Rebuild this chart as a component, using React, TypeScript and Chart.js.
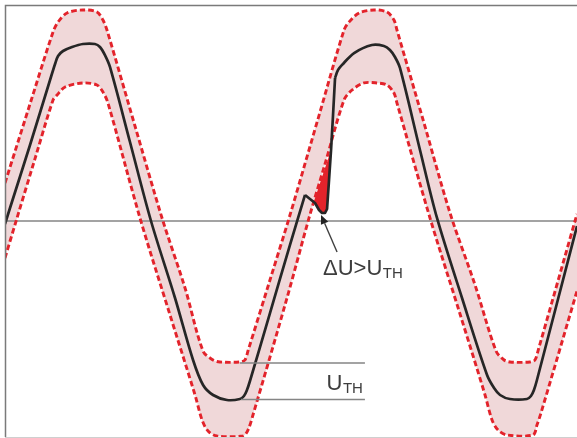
import { useEffect, useRef } from 'react';
import { Chart, registerables } from 'chart.js';

Chart.register(...registerables);

// time axis (ms) and voltage axis (V)
const X_MIN = 0;
const X_MAX = 40;
const Y_MIN = -400;
const Y_MAX = 400;

// measured waveform (with the transient glitch)
const WAVE_T = [0, 0.35, 1.75, 3.15, 3.5, 3.71, 4.06, 4.69, 5.45, 6.29, 6.64, 6.99, 7.34, 8.74, 10.21, 11.89, 13.15, 13.85, 14.55, 15.52, 16.43, 16.71, 16.92, 17.13, 18.53, 19.93, 20.98, 21.68, 21.96, 22.17, 22.38, 22.52, 22.66, 22.8, 22.94, 23.08, 23.29, 23.57, 24.41, 25.66, 26.5, 26.92, 27.27, 27.62, 29.02, 30.21, 31.96, 33.71, 34.2, 34.62, 35.31, 36.5, 36.78, 36.99, 37.2, 40.0];
const WAVE_V = [-5.6, 24.1, 140.8, 261.1, 290.8, 305.6, 314.8, 322.2, 327.8, 327.8, 322.2, 307.1, 285.2, 146.3, 0, -142.6, -257.4, -303.7, -322.2, -331.5, -329.7, -324.1, -313, -296.3, -170.4, -44.4, 48.2, 33.3, 20.4, 14.8, 14.8, 22.2, 75.9, 131.5, 196.3, 264.8, 279.7, 289, 311.1, 326, 324.1, 316.7, 303.7, 283.4, 131.5, 5.6, -142.6, -285.2, -309.3, -322.2, -329.7, -329.7, -324.1, -313, -294.5, -9.3];
// indices where the sharp-cornered glitch begins and ends
const GLITCH_START = 26;
const GLITCH_END = 35;

// tolerance band: upper envelope
const UPPER_T = [0, 1.75, 3.36, 3.71, 4.34, 5.45, 6.43, 6.85, 7.13, 9.09, 10.98, 12.59, 13.85, 14.55, 15.03, 16.43, 16.78, 16.99, 18.53, 19.93, 22.03, 23.71, 24.06, 24.76, 25.8, 26.71, 27.2, 27.41, 29.3, 31.12, 32.87, 34.34, 34.9, 35.31, 36.71, 37.06, 37.27, 40.0];
const UPPER_V = [70.4, 216.7, 350, 368.5, 385.2, 390.8, 387, 372.1, 353.7, 175.9, 5.6, -124.1, -240.8, -257.4, -261.1, -261.1, -257.4, -240.8, -109.3, 11.1, 201.9, 353.7, 368.5, 385.2, 390.8, 387, 372.1, 353.7, 181.5, 14.8, -118.5, -240.8, -257.4, -261.1, -261.1, -257.4, -240.8, 13];

// tolerance band: lower envelope
const LOWER_T = [0, 0.84, 2.1, 3.36, 3.64, 4.2, 5.45, 6.43, 6.85, 7.2, 9.44, 11.54, 13.29, 13.78, 14.2, 14.83, 16.64, 16.99, 17.34, 19.72, 21.26, 22.38, 23.71, 24.27, 25.1, 26.01, 26.71, 27.2, 27.41, 29.72, 31.82, 33.57, 34.06, 34.48, 35.1, 36.92, 37.2, 37.48, 40.0];
const LOWER_V = [-68.5, 5.6, 115.6, 224.1, 233.4, 248.2, 255.6, 251.9, 238.9, 218.5, 5.6, -174.1, -322.2, -368.5, -388.9, -398.2, -398.2, -387.1, -359.3, -142.6, 5.6, 105.6, 224.1, 242.6, 255.6, 255.6, 251.9, 237.1, 218.5, 5.6, -172.2, -322.2, -368.5, -387.1, -396.3, -396.3, -377.8, -355.6, -129.6];

// region where the deviation exceeds the threshold
const GLITCH_T = [21.61, 22.8, 22.66, 22.52, 22.38, 22.17, 21.96, 21.68, 21.61];
const GLITCH_V = [37, 131.5, 75.9, 22.2, 14.8, 14.8, 20.4, 31.5, 37];

// threshold marker lines
const UTH_HIGH_V = -263;
const UTH_LOW_V = -330.5;
const UTH_HIGH_T = [16.43, 25.17];
const UTH_LOW_T = [16.5, 25.17];

// annotations (data coordinates)
const LABEL_DU_MAIN = 'ΔU>U';
const LABEL_SUB = 'TH';
const LABEL_UTH_MAIN = 'U';
const LABEL_DU_POS = { x: 22.24, y: -100 };
const LABEL_UTH_POS = { x: 25.03, y: -313 };
const ARROW_TAIL = { x: 23.22, y: -57.4 };
const ARROW_TIP = { x: 22.1, y: 11.1 };

const pts = (t: number[], v: number[]) => t.map((x, i) => ({ x, y: v[i] }));

const RED = '#e3232b';
const PINK = 'rgb(240,216,217)';
const GRAY = '#858585';
const TEXT = '#3d3d3d';
const BLACK = '#262626';
const SMOOTH = 0.32;

const overlay = {
  id: 'overlay',
  afterDatasetsDraw(chart: any) {
    const { ctx, chartArea: a, scales } = chart;
    const xs = scales.x;
    const ys = scales.y;
    ctx.save();
    // frame
    ctx.lineWidth = 1.5;
    ctx.strokeStyle = '#7a7a7a';
    ctx.beginPath();
    ctx.moveTo(a.left + 0.5, a.bottom);
    ctx.lineTo(a.left + 0.5, a.top + 0.5);
    ctx.lineTo(a.right, a.top + 0.5);
    ctx.stroke();
    ctx.lineWidth = 1;
    ctx.strokeStyle = '#cfcfcf';
    ctx.beginPath();
    ctx.moveTo(a.left, a.bottom + 0.5);
    ctx.lineTo(a.right, a.bottom + 0.5);
    ctx.stroke();

    // arrow
    const tx = xs.getPixelForValue(ARROW_TAIL.x);
    const ty = ys.getPixelForValue(ARROW_TAIL.y);
    const hx = xs.getPixelForValue(ARROW_TIP.x);
    const hy = ys.getPixelForValue(ARROW_TIP.y);
    const ang = Math.atan2(hy - ty, hx - tx);
    const headLen = 9;
    const headW = 4;
    const bx = hx - headLen * Math.cos(ang);
    const by = hy - headLen * Math.sin(ang);
    ctx.strokeStyle = '#404040';
    ctx.lineWidth = 1.4;
    ctx.beginPath();
    ctx.moveTo(tx, ty);
    ctx.lineTo(bx, by);
    ctx.stroke();
    ctx.fillStyle = '#222';
    ctx.beginPath();
    ctx.moveTo(hx, hy);
    ctx.lineTo(bx + headW * Math.sin(ang), by - headW * Math.cos(ang));
    ctx.lineTo(bx - headW * Math.sin(ang), by + headW * Math.cos(ang));
    ctx.closePath();
    ctx.fill();

    // labels
    ctx.fillStyle = TEXT;
    ctx.textBaseline = 'alphabetic';
    ctx.textAlign = 'left';
    const mainFont = '22px "Liberation Sans", Arial, sans-serif';
    const subFont = '15px "Liberation Sans", Arial, sans-serif';
    let px = xs.getPixelForValue(LABEL_DU_POS.x);
    let py = ys.getPixelForValue(LABEL_DU_POS.y);
    ctx.font = mainFont;
    ctx.fillText(LABEL_DU_MAIN, px, py);
    const w1 = ctx.measureText(LABEL_DU_MAIN).width;
    ctx.font = subFont;
    ctx.fillText(LABEL_SUB, px + w1 + 0.5, py + 3);
    px = xs.getPixelForValue(LABEL_UTH_POS.x);
    py = ys.getPixelForValue(LABEL_UTH_POS.y);
    ctx.font = subFont;
    const ws = ctx.measureText(LABEL_SUB).width;
    ctx.font = mainFont;
    const wm = ctx.measureText(LABEL_UTH_MAIN).width;
    const left = px - ws - wm - 0.5;
    ctx.fillText(LABEL_UTH_MAIN, left, py);
    ctx.font = subFont;
    ctx.fillText(LABEL_SUB, left + wm + 0.5, py + 3);
    ctx.restore();
  },
};

export default function App() {
  const ref = useRef<HTMLCanvasElement>(null);
  useEffect(() => {
    const canvas = ref.current as HTMLCanvasElement;
    const wave = pts(WAVE_T, WAVE_V);
    const chart = new Chart(canvas, {
      type: 'line',
      data: {
        datasets: [
          {
            data: pts(UTH_HIGH_T, UTH_HIGH_T.map(() => UTH_HIGH_V)),
            borderColor: GRAY,
            borderWidth: 1.5,
            tension: 0,
            fill: false,
          },
          {
            data: pts(UTH_LOW_T, UTH_LOW_T.map(() => UTH_LOW_V)),
            borderColor: GRAY,
            borderWidth: 1.5,
            tension: 0,
            fill: false,
          },
          {
            data: pts(GLITCH_T, GLITCH_V),
            borderColor: 'rgba(0,0,0,0)',
            borderWidth: 0,
            backgroundColor: RED,
            tension: 0,
            fill: 'shape',
          },
          {
            data: wave.slice(0, GLITCH_START + 1),
            borderColor: BLACK,
            borderWidth: 2.7,
            tension: SMOOTH,
            fill: false,
          },
          {
            data: wave.slice(GLITCH_START, GLITCH_END + 1),
            borderColor: BLACK,
            borderWidth: 2.7,
            tension: 0,
            borderJoinStyle: 'round',
            fill: false,
          },
          {
            data: wave.slice(GLITCH_END),
            borderColor: BLACK,
            borderWidth: 2.7,
            tension: SMOOTH,
            fill: false,
          },
          {
            data: pts(UPPER_T, UPPER_V),
            borderColor: RED,
            borderWidth: 2.9,
            borderDash: [5.5, 3],
            tension: SMOOTH,
            backgroundColor: PINK,
            fill: '+1',
          },
          {
            data: pts(LOWER_T, LOWER_V),
            borderColor: RED,
            borderWidth: 2.9,
            borderDash: [5.5, 3],
            tension: SMOOTH,
            fill: false,
          },
          {
            data: pts([X_MIN, X_MAX], [0, 0]),
            borderColor: GRAY,
            borderWidth: 1.6,
            tension: 0,
            fill: false,
          },
        ],
      },
      options: {
        responsive: false,
        animation: false,
        devicePixelRatio: 1,
        layout: { padding: { left: 5, top: 5, right: 0, bottom: 1 } },
        elements: { point: { radius: 0, hoverRadius: 0 } },
        scales: {
          x: { type: 'linear', min: X_MIN, max: X_MAX, display: false },
          y: { type: 'linear', min: Y_MIN, max: Y_MAX, display: false },
        },
        plugins: {
          legend: { display: false },
          tooltip: { enabled: false },
          filler: { drawTime: 'beforeDatasetsDraw' },
        },
      } as any,
      plugins: [overlay],
    });
    return () => chart.destroy();
  }, []);
  return (
    <div style={{ position: 'fixed', left: 0, top: 0, width: 577, height: 438, background: '#fff' }}>
      <canvas ref={ref} width={577} height={438} style={{ display: 'block', width: 577, height: 438 }} />
    </div>
  );
}
